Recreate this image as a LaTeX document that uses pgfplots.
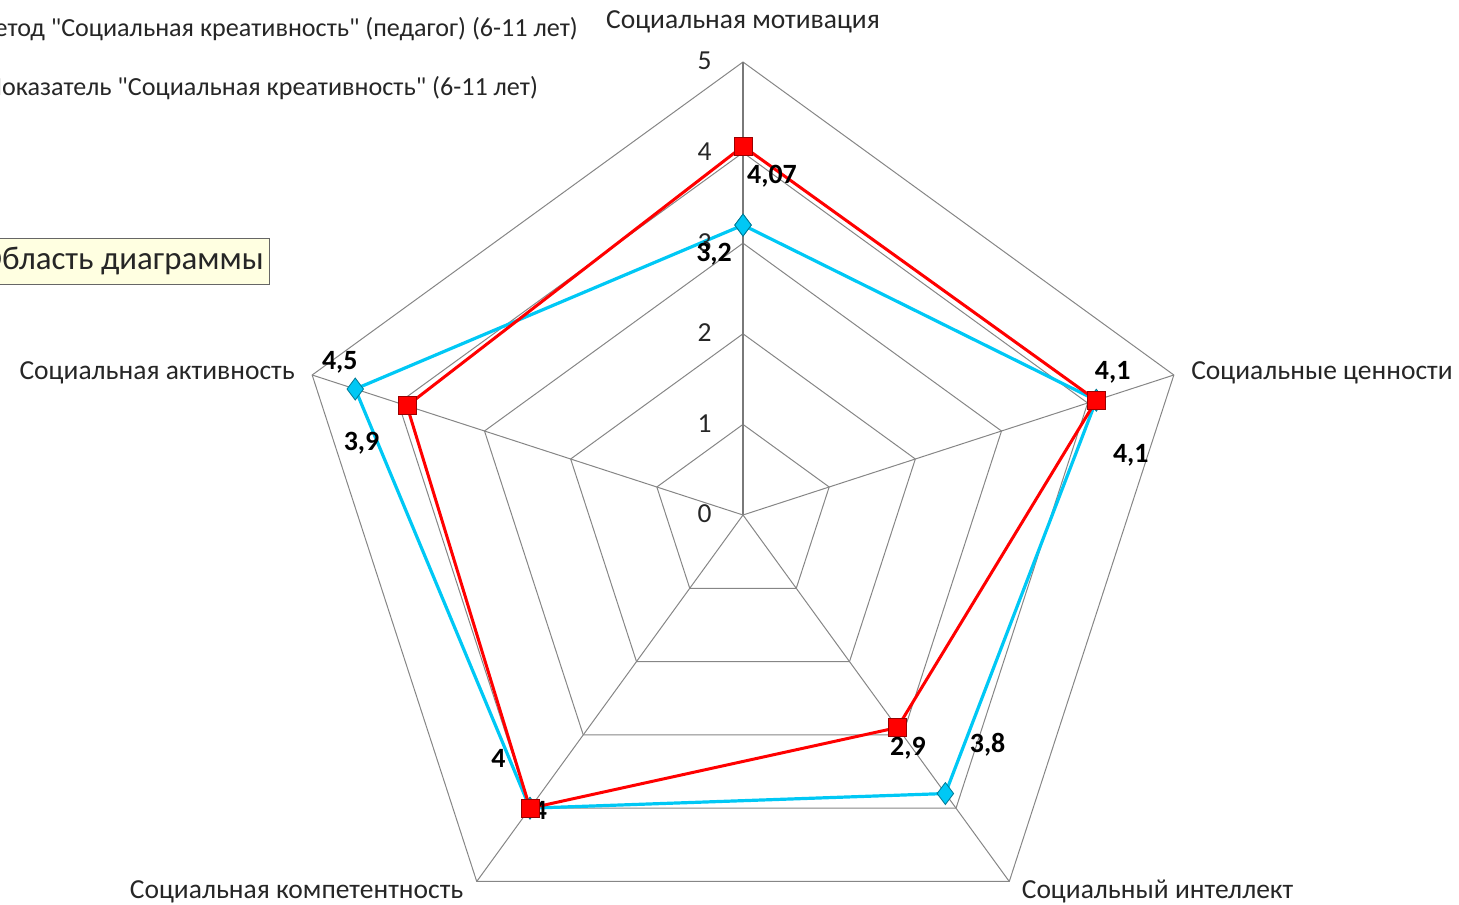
\documentclass[border=0pt]{standalone}
\usepackage{pgfplots}
\pgfplotsset{compat=1.18}
\usepackage{fontspec}
\setmainfont{Carlito}[Ligatures=TeXOff]
\definecolor{redS}{RGB}{255,0,0}
\definecolor{blueS}{RGB}{0,200,245}
\definecolor{gridc}{RGB}{134,134,134}
\definecolor{tipfill}{RGB}{255,255,225}
\begin{document}
\begin{tikzpicture}
\newcommand{\lbl}{\fontsize{13.8}{16}\selectfont}
\newcommand{\leglbl}{\fontsize{13.1}{16}\selectfont}
\newcommand{\dlbl}{\fontsize{14}{16}\selectfont\bfseries}
\begin{axis}[name=ax,
  scale only axis, width=729.5bp, height=452.5bp,
  xmin=-8.2009, xmax=7.9029, ymin=-4.3046, ymax=5.6843,
  hide axis, clip=false,
]
% grid pentagons
\addplot[gridc, line width=0.5bp, no markers, data cs=polar] coordinates {(90,1)(18,1)(-54,1)(-126,1)(162,1)(90,1)};
\addplot[gridc, line width=0.5bp, no markers, data cs=polar] coordinates {(90,2)(18,2)(-54,2)(-126,2)(162,2)(90,2)};
\addplot[gridc, line width=0.5bp, no markers, data cs=polar] coordinates {(90,3)(18,3)(-54,3)(-126,3)(162,3)(90,3)};
\addplot[gridc, line width=0.5bp, no markers, data cs=polar] coordinates {(90,4)(18,4)(-54,4)(-126,4)(162,4)(90,4)};
\addplot[gridc, line width=0.5bp, no markers, data cs=polar] coordinates {(90,5)(18,5)(-54,5)(-126,5)(162,5)(90,5)};
% spokes
\addplot[gridc!90!black, line width=0.8bp, no markers, data cs=polar] coordinates {(90,0)(90,5)};
\addplot[gridc, line width=0.5bp, no markers, data cs=polar] coordinates {(18,0)(18,5)};
\addplot[gridc, line width=0.5bp, no markers, data cs=polar] coordinates {(-54,0)(-54,5)};
\addplot[gridc, line width=0.5bp, no markers, data cs=polar] coordinates {(-126,0)(-126,5)};
\addplot[gridc, line width=0.5bp, no markers, data cs=polar] coordinates {(162,0)(162,5)};
% series
\addplot[blueS, line width=1.6bp, data cs=polar, mark=diamond*, mark size=5.5bp,
  mark options={fill=blueS, draw=blueS!60!black, line width=0.4bp}]
  coordinates {(90,3.2)(18,4.1)(-54,3.8)(-126,4)(162,4.5)(90,3.2)};
\addplot[redS, line width=1.5bp, data cs=polar, mark=square*, mark size=4.5bp,
  mark options={fill=redS, draw=red!60!black, line width=0.4bp}]
  coordinates {(90,4.07)(18,4.1)(-54,2.9)(-126,4)(162,3.9)(90,4.07)};
% value ticks
\foreach \v in {0,1,2,3,4,5}{
  \edef\tmp{\noexpand\node[anchor=east, font=\noexpand\lbl, text=black!85] at (axis cs:-0.27,\v+0.01) {\v};}
  \tmp
}
% data labels
\node[font=\dlbl] at (axis cs:0.32,3.74) {4,07};
\node[font=\dlbl] at (axis cs:-0.32,2.88) {3,2};
\node[font=\dlbl] at (axis cs:4.08,1.57) {4,1};
\node[font=\dlbl] at (axis cs:4.28,0.66) {4,1};
\node[font=\dlbl] at (axis cs:1.82,-2.57) {2,9};
\node[font=\dlbl] at (axis cs:2.70,-2.54) {3,8};
\node[font=\dlbl] at (axis cs:-2.70,-2.69) {4};
\node[font=\dlbl] at (axis cs:-2.24,-3.26) {4};
\node[font=\dlbl] at (axis cs:-4.45,1.68) {4,5};
\node[font=\dlbl] at (axis cs:-4.21,0.79) {3,9};
% category labels
\node[font=\lbl, text=black!85] at (axis cs:0,5.44) {Социальная мотивация};
\node[font=\lbl, text=black!85, anchor=west] at (axis cs:4.87,1.567) {Социальные ценности};
\node[font=\lbl, text=black!85, anchor=west] at (axis cs:3.00,-4.16) {Социальный интеллект};
\node[font=\lbl, text=black!85, anchor=east] at (axis cs:-3.01,-4.16) {Социальная компетентность};
\node[font=\lbl, text=black!85, anchor=east] at (axis cs:-4.87,1.567) {Социальная активность};
% legend (cut off)
\node[font=\leglbl, text=black!85, anchor=east, inner sep=0pt] at (axis cs:-1.82,5.36) {Метод "Социальная креативность" (педагог) (6-11 лет)};
\node[font=\leglbl, text=black!85, anchor=east, inner sep=0pt] at (axis cs:-2.26,4.71) {Показатель "Социальная креативность" (6-11 лет)};
% tooltip
\node[font=\fontsize{16.5}{18}\selectfont, text=black!85, anchor=east, fill=tipfill, draw=black!60,
  minimum height=23bp, inner xsep=3bp] at (axis cs:-5.22,2.80) {Область диаграммы};
\end{axis}
\pgfresetboundingbox
\useasboundingbox (ax.south west) rectangle (ax.north east);
\end{tikzpicture}
\end{document}
